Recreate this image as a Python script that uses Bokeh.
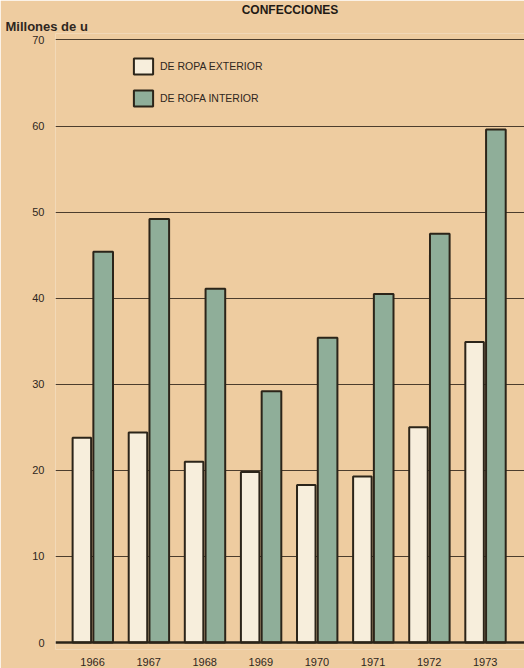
from bokeh.plotting import figure
from bokeh.models import ColumnDataSource, Range1d, FixedTicker, Legend, LegendItem, Title, Span
from bokeh.transform import dodge
from bokeh.embed import file_html
from bokeh.resources import INLINE

# ---- data ----
years = ["1966", "1967", "1968", "1969", "1970", "1971", "1972", "1973"]
ropa_exterior = [23.8, 24.4, 21.0, 19.8, 18.3, 19.3, 25.0, 34.9]
ropa_interior = [45.4, 49.2, 41.1, 29.2, 35.4, 40.5, 47.5, 59.6]
y_ticks = [0, 10, 20, 30, 40, 50, 60, 70]
series_labels = ["DE ROPA EXTERIOR", "DE ROFA INTERIOR"]
title_text = "CONFECCIONES"
unit_text = "Millones de u"

BG = "#EECCA0"
INK = "#2b2419"
TXT = "#2f2721"
EXT = "#F7EEDC"
INT = "#8FAE99"
FONT = "Liberation Sans"

idx = list(range(len(years)))
src = ColumnDataSource(dict(idx=idx, ext=ropa_exterior, inte=ropa_interior))

p = figure(width=524, height=668, output_backend="svg", toolbar_location=None,
           x_range=Range1d(-0.66, 7.70), y_range=Range1d(-0.81, 70.75),
           min_border_left=55, min_border_right=0, min_border_top=0, min_border_bottom=16)
p.background_fill_color = BG
p.border_fill_color = BG
p.outline_line_color = None

# titles: main title on top, unit line just above the frame
p.title.text = title_text
p.title.align = "center"
p.title.offset = -8
p.title.standoff = 0
p.title.text_font = FONT
p.title.text_font_size = "12px"
p.title.text_font_style = "bold"
p.title.text_color = "#1f1a15"
p.add_layout(Title(text=unit_text, align="left", offset=-50, standoff=0, text_font=FONT,
                   text_font_size="13px", text_font_style="bold", text_color=TXT), "above")

r_ext = p.vbar(x=dodge("idx", -0.19, range=p.x_range), top="ext", width=0.33, source=src,
               fill_color=EXT, line_color=INK, line_width=2)
r_int = p.vbar(x=dodge("idx", 0.19, range=p.x_range), top="inte", width=0.35, source=src,
               fill_color=INT, line_color=INK, line_width=2)

# baseline at zero
p.add_layout(Span(location=0, dimension="width", line_color=INK, line_width=2.5))

# axes
p.yaxis.ticker = FixedTicker(ticks=y_ticks)
p.yaxis.axis_line_color = None
p.yaxis.major_tick_line_color = None
p.yaxis.minor_tick_line_color = None
p.yaxis.major_label_standoff = 5
p.yaxis.major_label_text_font = FONT
p.yaxis.major_label_text_font_size = "11px"
p.yaxis.major_label_text_color = TXT

p.xaxis.ticker = FixedTicker(ticks=idx)
p.xaxis.major_label_overrides = {i: y for i, y in zip(idx, years)}
p.xaxis.axis_line_color = None
p.xaxis.major_tick_line_color = None
p.xaxis.minor_tick_line_color = None
p.xaxis.major_label_standoff = 2
p.xaxis.major_label_text_font = FONT
p.xaxis.major_label_text_font_size = "11px"
p.xaxis.major_label_text_color = TXT

p.xgrid.grid_line_color = None
p.ygrid.ticker = FixedTicker(ticks=y_ticks[1:])
p.ygrid.grid_line_color = "#3a2e20"
p.ygrid.grid_line_width = 1
p.ygrid.grid_line_alpha = 0.9

legend = Legend(items=[LegendItem(label=series_labels[0], renderers=[r_ext]),
                       LegendItem(label=series_labels[1], renderers=[r_int])],
                location=(76, 541), orientation="vertical")
legend.background_fill_alpha = 0
legend.border_line_color = None
legend.padding = 0
legend.margin = 0
legend.spacing = 12
legend.glyph_width = 24
legend.glyph_height = 20
legend.label_height = 20
legend.label_standoff = 5
legend.label_text_font = FONT
legend.label_text_font_size = "10.5px"
legend.label_text_color = TXT
p.add_layout(legend, "center")

open("out.html", "w").write(file_html(p, INLINE))
